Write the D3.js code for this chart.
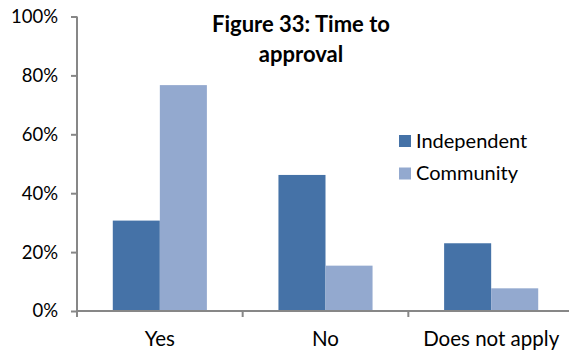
<!DOCTYPE html>
<html>
<head>
<meta charset="utf-8">
<script src="https://cdn.jsdelivr.net/npm/d3@7"></script>
<style>
  body { margin: 0; background: #fff; }
  svg { display: block; font-family: Lato, "Open Sans", sans-serif; }
</style>
</head>
<body>
<div id="chart"></div>
<script>
const categories = ["Yes", "No", "Does not apply"];
const seriesNames = ["Independent", "Community"];
const independent = [0.307, 0.462, 0.230];
const community = [0.767, 0.154, 0.077];
const yTicks = [0, 0.2, 0.4, 0.6, 0.8, 1.0];
const titleLines = ["Figure 33: Time to", "approval"];

const width = 569, height = 352;
const colors = ["#4572A7", "#93A9CF"];
const axisColor = "#878787";

const svg = d3.select("#chart").append("svg")
    .attr("width", width)
    .attr("height", height);

// scales
const x = d3.scaleBand()
    .domain(categories)
    .range([77, 574])
    .paddingInner(0.432)
    .paddingOuter(0.216);

const xInner = d3.scaleBand()
    .domain(seriesNames)
    .range([0, x.bandwidth()]);

const y = d3.scaleLinear()
    .domain([0, 1])
    .range([311, 16.5]);

const rows = categories.map((c, i) => ({ cat: c, values: [independent[i], community[i]] }));

// bars
const groups = svg.selectAll(".grp")
    .data(rows)
    .enter().append("g")
    .attr("class", "grp")
    .attr("transform", d => `translate(${x(d.cat)},0)`);

groups.selectAll("rect")
    .data(d => d.values.map((v, j) => ({ name: seriesNames[j], v: v, j: j })))
    .enter().append("rect")
    .attr("x", d => xInner(d.name))
    .attr("y", d => y(d.v))
    .attr("width", xInner.bandwidth())
    .attr("height", d => y(0) - y(d.v))
    .attr("fill", d => colors[d.j]);

// y axis
const yAxis = svg.append("g")
    .attr("transform", "translate(77,0)")
    .call(d3.axisLeft(y).tickValues(yTicks).tickFormat(d3.format(".0%")).tickSize(6).tickPadding(13));
yAxis.select(".domain").attr("stroke", axisColor).attr("stroke-width", 2).attr("d", `M0,${y(1)}V${y(0)}`);
yAxis.selectAll(".tick line").attr("stroke", axisColor).attr("stroke-width", 2);
yAxis.selectAll(".tick text").attr("fill", "#000").style("font-size", "18.5px").style("font-family", "Lato, sans-serif");

// x axis (ticks between categories)
const xAxisG = svg.append("g");
xAxisG.append("line")
    .attr("x1", 76).attr("x2", width)
    .attr("y1", y(0)).attr("y2", y(0))
    .attr("stroke", axisColor).attr("stroke-width", 2);
const step = x.step();
xAxisG.selectAll(".xt")
    .data(categories)
    .enter().append("line")
    .attr("x1", (d, i) => x.range()[0] + i * step)
    .attr("x2", (d, i) => x.range()[0] + i * step)
    .attr("y1", y(0)).attr("y2", y(0) + 6)
    .attr("stroke", axisColor).attr("stroke-width", 2);
xAxisG.selectAll(".xl")
    .data(categories)
    .enter().append("text")
    .attr("x", d => x(d) + x.bandwidth() / 2)
    .attr("y", 346)
    .attr("text-anchor", "middle")
    .style("font-size", "20.5px")
    .text(d => d);

// title
svg.append("text")
    .attr("text-anchor", "middle")
    .style("font-size", "22px")
    .style("font-weight", "bold")
    .selectAll("tspan")
    .data(titleLines)
    .enter().append("tspan")
    .attr("x", 301)
    .attr("y", (d, i) => 32 + i * 30)
    .text(d => d);

// legend
const legend = svg.append("g").attr("transform", "translate(399,135)");
seriesNames.forEach((name, i) => {
    const g = legend.append("g").attr("transform", `translate(0,${i * 32.5})`);
    g.append("rect").attr("width", 12).attr("height", 12).attr("fill", colors[i]);
    g.append("text").attr("x", 17).attr("y", 12.5).style("font-size", "20px").text(name);
});
</script>
</body>
</html>
